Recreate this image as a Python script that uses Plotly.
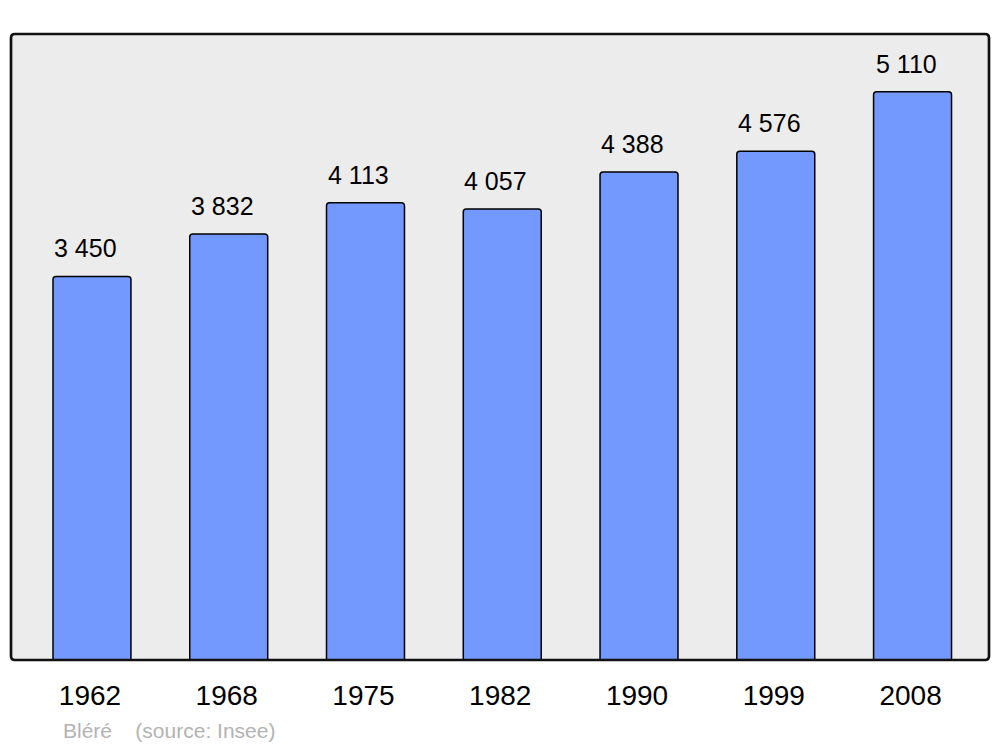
import plotly.graph_objects as go

years = ["1962", "1968", "1975", "1982", "1990", "1999", "2008"]
population = [3450, 3832, 4113, 4057, 4388, 4576, 5110]
value_labels = ["3 450", "3 832", "4 113", "4 057", "4 388", "4 576", "5 110"]
positions = list(range(len(years)))

W, H = 1000, 747
ml, mr, mt, mb = 11, 11, 34, 87
pw, ph = W - ml - mr, H - mt - mb

fig = go.Figure()
fig.add_trace(go.Bar(
    x=positions, y=population, width=0.57,
    marker=dict(color="#7399FF", line=dict(color="#000000", width=1.5), cornerradius=3),
    hoverinfo="skip",
))

for xp, v, lab in zip(positions, population, value_labels):
    fig.add_annotation(x=xp, y=v, text=lab, showarrow=False, xanchor="center",
                       yanchor="bottom", yshift=12, xshift=-6.5,
                       font=dict(family="Liberation Sans, Arial, sans-serif", size=25, color="#000"))

fig.add_annotation(xref="paper", yref="paper", x=(61 - ml) / pw, y=(660 - 730) / ph,
                   text="Bléré&nbsp;&nbsp;&nbsp;&nbsp;(source: Insee)", showarrow=False,
                   xanchor="left", yanchor="middle",
                   font=dict(family="Liberation Sans, Arial, sans-serif", size=21, color="#B3B3B3"))

# rounded frame
r = 4
rx, ry = r / pw, r / ph
path = (f"M {rx},0 L {1-rx},0 Q 1,0 1,{ry} L 1,{1-ry} Q 1,1 {1-rx},1 "
        f"L {rx},1 Q 0,1 0,{1-ry} L 0,{ry} Q 0,0 {rx},0 Z")
fig.add_shape(type="path", xref="paper", yref="paper", path=path,
              line=dict(color="#111111", width=2.7), layer="above")

fig.update_layout(
    width=W, height=H,
    margin=dict(l=ml, r=mr, t=mt, b=mb),
    paper_bgcolor="#FFFFFF", plot_bgcolor="#ECECEC",
    showlegend=False,
    xaxis=dict(range=[-0.592, 6.559], tickvals=positions, ticktext=years,
               showgrid=False, zeroline=False, showline=False, ticks="",
               ticklabelstandoff=16, ticklabelshift=-2,
               tickfont=dict(family="Liberation Sans, Arial, sans-serif", size=28, color="#000"),
               fixedrange=True),
    yaxis=dict(range=[0, 5630], showgrid=False, zeroline=False, showticklabels=False,
               showline=False, fixedrange=True),
)

fig.write_html("out.html", config={"displayModeBar": False},
               post_script="document.body.style.margin='0';document.body.style.overflow='hidden';")
